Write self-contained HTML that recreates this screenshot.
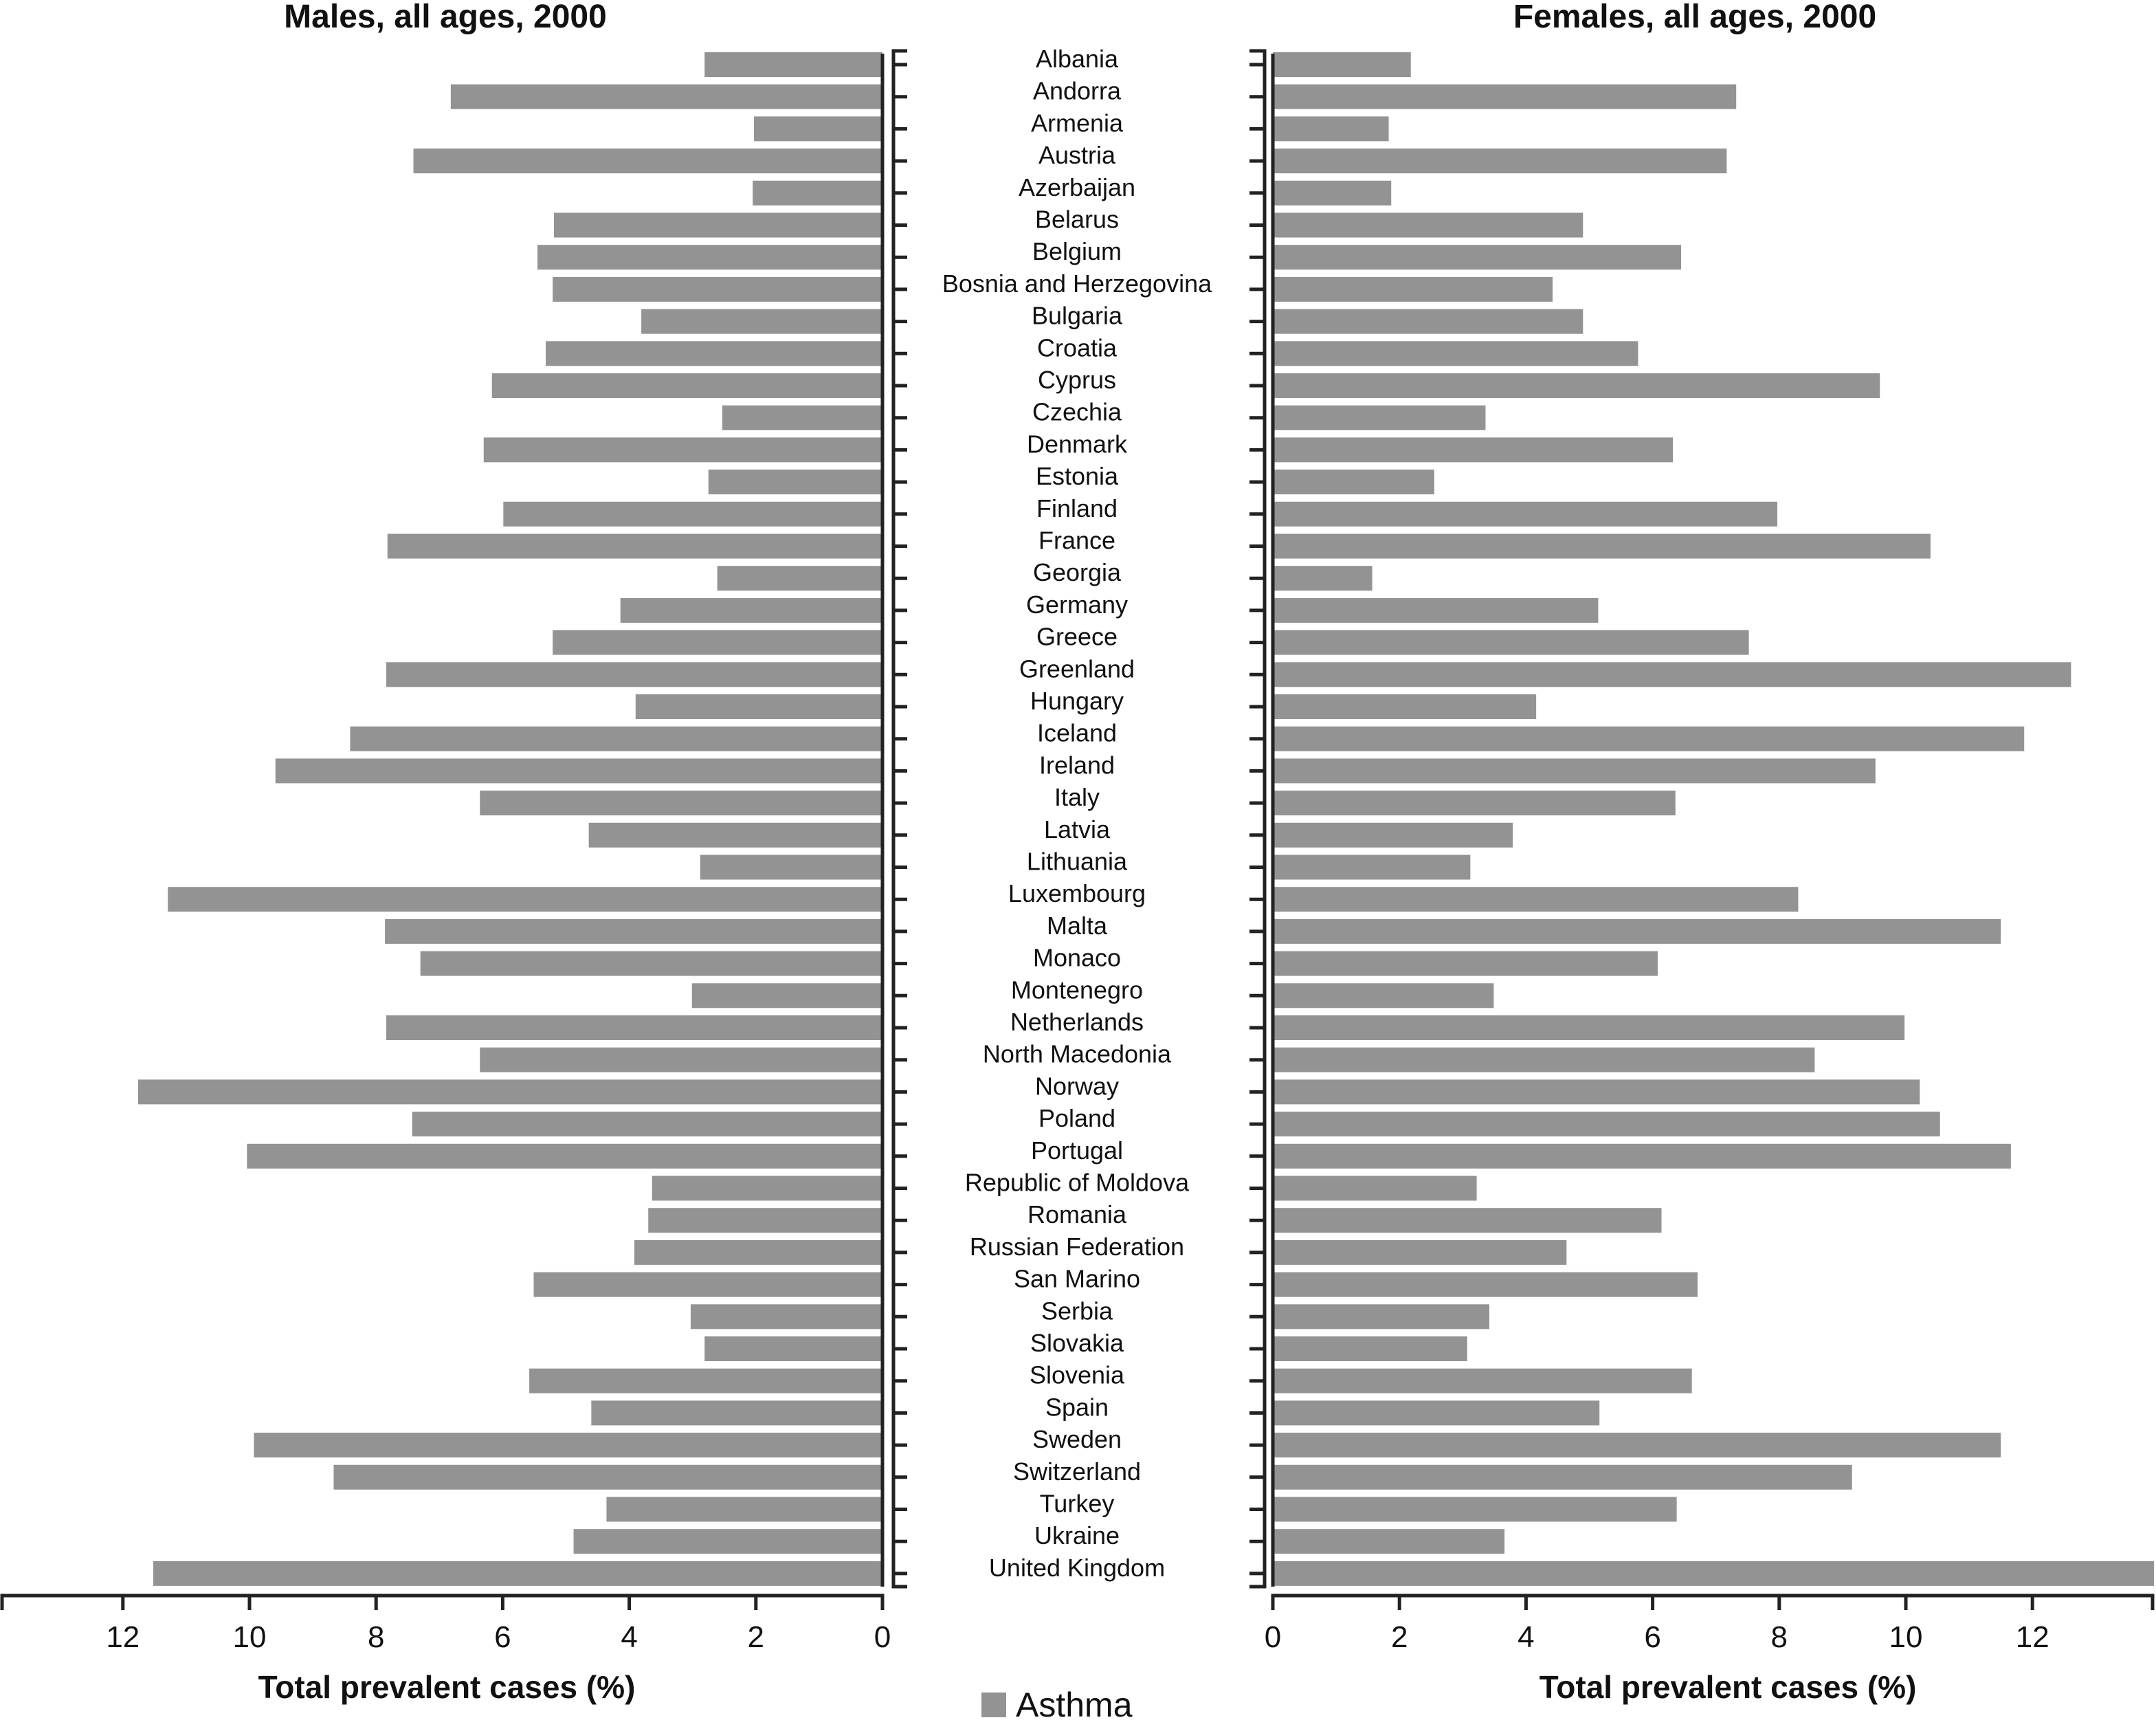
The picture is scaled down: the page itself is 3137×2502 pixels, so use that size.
<!DOCTYPE html>
<html><head><meta charset="utf-8"><style>
html,body{margin:0;padding:0;background:#fff}
svg{display:block}
text{font-family:"Liberation Sans",sans-serif;fill:#111}
</style></head><body>
<svg id="chart" width="3137" height="2502" viewBox="0 0 3137 2502" xmlns="http://www.w3.org/2000/svg">
<text x="648" y="40" font-size="48" font-weight="bold" text-anchor="middle">Males, all ages, 2000</text>
<text x="2466" y="40" font-size="48" font-weight="bold" text-anchor="middle">Females, all ages, 2000</text>
<g id="bars"></g>
<g id="axes" stroke="#222" stroke-width="5" fill="none"></g>
<g id="labels"></g>
<text x="650" y="2470" font-size="46" font-weight="bold" text-anchor="middle">Total prevalent cases (%)</text>
<text x="2514" y="2470" font-size="46" font-weight="bold" text-anchor="middle">Total prevalent cases (%)</text>
<rect x="1428" y="2462" width="36" height="36" fill="#939393"/>
<text x="1478" y="2497" font-size="50">Asthma</text>
</svg>
<script>
const countries = ["Albania","Andorra","Armenia","Austria","Azerbaijan","Belarus","Belgium","Bosnia and Herzegovina","Bulgaria","Croatia","Cyprus","Czechia","Denmark","Estonia","Finland","France","Georgia","Germany","Greece","Greenland","Hungary","Iceland","Ireland","Italy","Latvia","Lithuania","Luxembourg","Malta","Monaco","Montenegro","Netherlands","North Macedonia","Norway","Poland","Portugal","Republic of Moldova","Romania","Russian Federation","San Marino","Serbia","Slovakia","Slovenia","Spain","Sweden","Switzerland","Turkey","Ukraine","United Kingdom"];
const males = [2.81,6.82,2.03,7.41,2.05,5.19,5.45,5.21,3.81,5.32,6.17,2.53,6.30,2.75,5.99,7.82,2.61,4.14,5.21,7.84,3.90,8.41,9.59,6.36,4.64,2.88,11.29,7.86,7.30,3.01,7.84,6.36,11.76,7.43,10.04,3.64,3.70,3.92,5.51,3.03,2.81,5.58,4.60,9.93,8.67,4.36,4.88,11.52];
const females = [2.18,7.32,1.83,7.17,1.87,4.90,6.45,4.42,4.90,5.77,9.59,3.36,6.32,2.55,7.97,10.39,1.57,5.14,7.52,12.61,4.16,11.87,9.52,6.36,3.79,3.12,8.30,11.50,6.08,3.49,9.98,8.56,10.22,10.54,11.66,3.22,6.14,4.64,6.71,3.42,3.07,6.62,5.16,11.50,9.15,6.38,3.66,13.92];
const xTicks = [0,2,4,6,8,10,12];

const NS="http://www.w3.org/2000/svg";
const L0=1284, R0=1852, U=92.1, Y0=94, ROW=46.7, BH=36, AXY=2321;
const xl=v=>L0-v*U, xr=v=>R0+v*U, yc=i=>Y0+i*ROW;
function mk(tag,attrs,parent){const e=document.createElementNS(NS,tag);for(const k in attrs)e.setAttribute(k,attrs[k]);parent.appendChild(e);return e;}
const barsG=document.getElementById('bars'),axesG=document.getElementById('axes'),labelsG=document.getElementById('labels');
countries.forEach((c,i)=>{
  const m=mk('rect',{x:xl(males[i]),y:yc(i)-BH/2,width:males[i]*U,height:BH,fill:'#939393'},barsG);
  
  
  const f=mk('rect',{x:R0,y:yc(i)-BH/2,width:females[i]*U,height:BH,fill:'#939393'},barsG);
  
  
  const t=mk('text',{x:1567,y:yc(i)+4,'font-size':36,'text-anchor':'middle'},labelsG);
  t.textContent=c;
  
  
  mk('line',{x1:1300,x2:1320,y1:yc(i),y2:yc(i)},axesG);
  mk('line',{x1:1840,x2:1818,y1:yc(i),y2:yc(i)},axesG);
});
const yTop=74, yBot=2308;
mk('line',{x1:L0,x2:L0,y1:yTop+4,y2:yBot},axesG);
mk('line',{x1:R0,x2:R0,y1:yTop+4,y2:yBot},axesG);
mk('polyline',{points:`1320,${yTop} 1300,${yTop} 1300,${yBot} 1320,${yBot}`},axesG);
mk('polyline',{points:`1818,${yTop} 1840,${yTop} 1840,${yBot} 1818,${yBot}`},axesG);
mk('polyline',{points:`3,2342 3,${AXY} ${L0},${AXY} ${L0},2342`},axesG);
mk('polyline',{points:`${R0},2342 ${R0},${AXY} 3132,${AXY} 3132,2342`},axesG);
xTicks.forEach(v=>{
  mk('line',{x1:xl(v),x2:xl(v),y1:AXY,y2:2342},axesG);
  mk('line',{x1:xr(v),x2:xr(v),y1:AXY,y2:2342},axesG);
  const a=mk('text',{x:xl(v),y:2396,'font-size':44,'text-anchor':'middle'},labelsG);
  a.textContent=v;
  
  
  const b=mk('text',{x:xr(v),y:2396,'font-size':44,'text-anchor':'middle'},labelsG);
  b.textContent=v;
  
  
});
</script>
</body></html>
